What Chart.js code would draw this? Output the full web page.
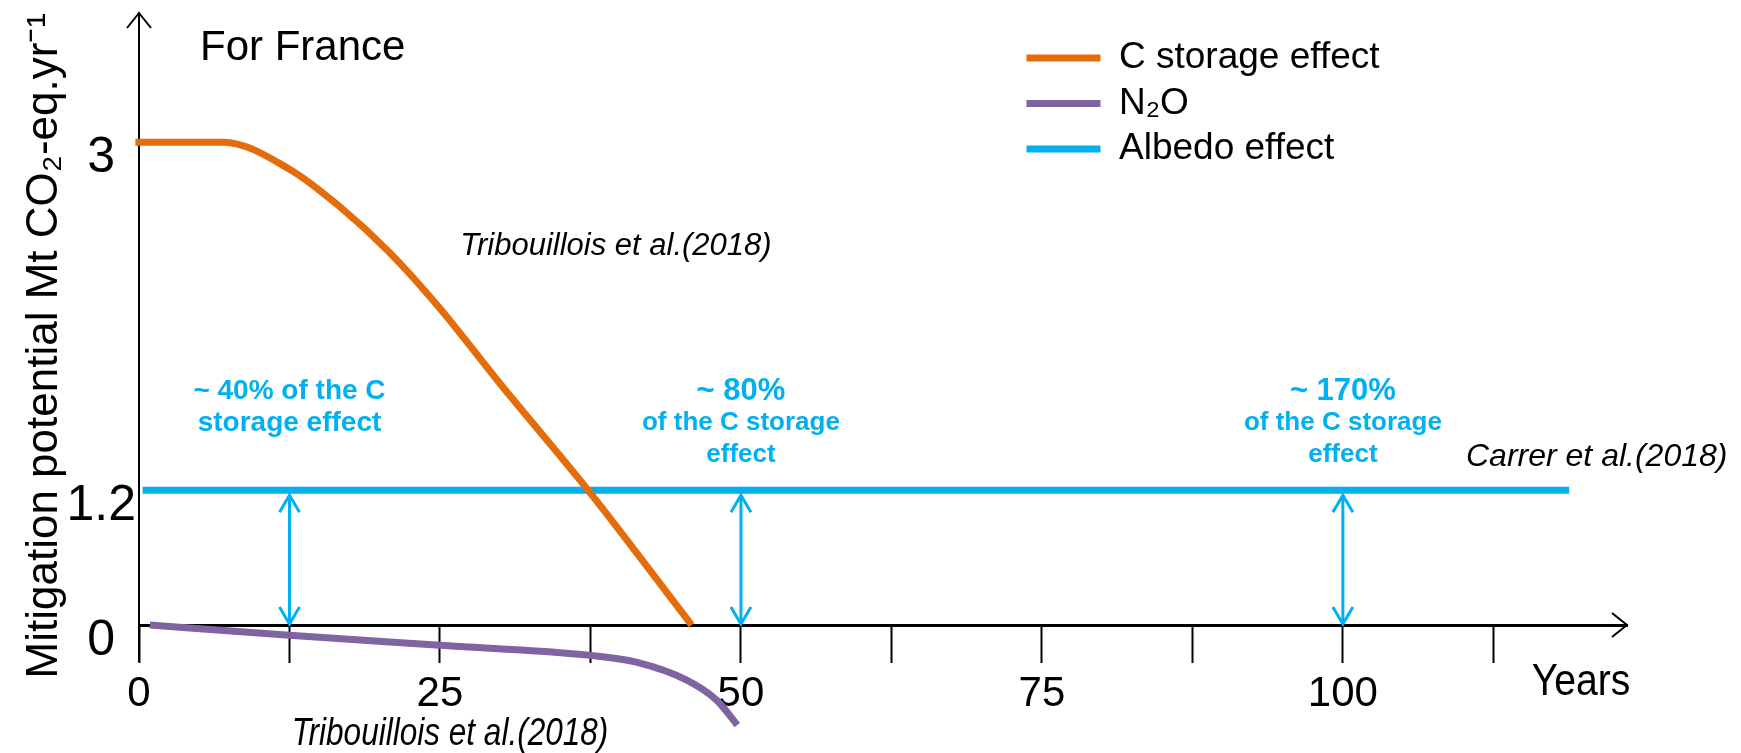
<!DOCTYPE html>
<html>
<head>
<meta charset="utf-8">
<script src="https://cdn.jsdelivr.net/npm/chart.js@4.4.1/dist/chart.umd.min.js"></script>
<style>
  html, body { margin: 0; background: #fff; }
  #wrap { width: 1741px; height: 753px; position: relative; }
</style>
</head>
<body>
<div id="wrap"><canvas id="chart"></canvas></div>
<script>
// --- series (years, Mt CO2-eq/yr) ---
const seriesNames = ['C storage effect', 'N₂O', 'Albedo effect'];
const seriesColors = ['#E46C0A', '#8064A2', '#00B0F0'];

const cStorageYears = [-0.3, 7, 12.5, 16.7, 20.8, 25, 30, 37.3, 45.9];
const cStorageValues = [3, 3, 2.86, 2.665, 2.43, 2.14, 1.75, 1.2, 0];

const n2oYears = [0.9, 12.5, 25, 37.5, 41.3, 45.5, 48, 49.7];
const n2oValues = [0, -0.09, -0.18, -0.27, -0.33, -0.49, -0.67, -0.89];

const albedoYears = [0.3, 118.8];
const albedoValues = [1.2, 1.2];

// --- axes ---
const xTicks = [0, 12.5, 25, 37.5, 50, 62.5, 75, 87.5, 100, 112.5];
const xLabelled = [0, 25, 50, 75, 100];
const yTicks = [0, 1.2, 3];

// --- albedo vs C storage comparison arrows ---
const arrowYears = [12.5, 50, 100];
const shareLabels = [
  ['~ 40% of the C', 'storage effect'],
  ['~ 80%', 'of the C storage', 'effect'],
  ['~ 170%', 'of the C storage', 'effect']
];

// the figure is a sketch: above 1.2 one unit is drawn ~1.72x taller than below
const Y_BREAK = 1.2;
const Y_STRETCH = 1.72;

const warp = v => (v <= Y_BREAK ? v : Y_BREAK + (v - Y_BREAK) * Y_STRETCH);
const unwarp = w => (w <= Y_BREAK ? w : Y_BREAK + (w - Y_BREAK) / Y_STRETCH);

class WarpScale extends Chart.LinearScale {
  getPixelForValue(value) {
    const a = warp(this.min), b = warp(this.max);
    return this.getPixelForDecimal((warp(value) - a) / (b - a));
  }
  getValueForPixel(pixel) {
    const a = warp(this.min), b = warp(this.max);
    return unwarp(a + this.getDecimalForPixel(pixel) * (b - a));
  }
}
WarpScale.id = 'warp';
WarpScale.defaults = Chart.LinearScale.defaults;
Chart.register(WarpScale);

const FONT = '"Liberation Sans", Arial, sans-serif';
Chart.defaults.font.family = FONT;
Chart.defaults.color = '#000';

const toPoints = (xs, ys) => xs.map((x, i) => ({ x, y: ys[i] }));

function lineSet(i, xs, ys) {
  return {
    label: seriesNames[i],
    data: toPoints(xs, ys),
    borderColor: seriesColors[i],
    backgroundColor: seriesColors[i],
    borderWidth: 7,
    pointRadius: 0,
    cubicInterpolationMode: 'monotone',
    borderCapStyle: 'butt',
    clip: false
  };
}

// open "V" arrow head, tip at (tx, ty), pointing along (dx, dy)
function head(ctx, tx, ty, dx, dy, len, half) {
  ctx.beginPath();
  ctx.moveTo(tx - dx * len - dy * half, ty - dy * len + dx * half);
  ctx.lineTo(tx, ty);
  ctx.lineTo(tx - dx * len + dy * half, ty - dy * len - dx * half);
  ctx.stroke();
}

// text squeezed horizontally (some captions are condensed in the original)
function squeezed(ctx, text, x, y, sx) {
  ctx.save();
  ctx.translate(x, y);
  ctx.scale(sx, 1);
  ctx.fillText(text, 0, 0);
  ctx.restore();
}

const annotate = {
  id: 'annotate',
  beforeDraw(chart) {
    // legend sits in the top right corner of the plot
    const lg = chart.legend;
    const w = lg.right - lg.left, h = lg.bottom - lg.top;
    lg.left = 1018; lg.top = 31;
    lg.right = lg.left + w; lg.bottom = lg.top + h;
  },
  afterDraw(chart) {
    const { ctx, scales: { x, y } } = chart;
    ctx.save();

    // axis arrows
    ctx.strokeStyle = '#000';
    ctx.lineWidth = 2;
    head(ctx, x.left, y.top, 0, -1, 15, 12);
    head(ctx, x.right, y.getPixelForValue(0), 1, 0, 15, 12);

    // double arrows between the albedo line and zero
    const yAlb = y.getPixelForValue(albedoValues[0]);
    const y0 = y.getPixelForValue(0);
    ctx.strokeStyle = seriesColors[2];
    ctx.fillStyle = seriesColors[2];
    ctx.lineWidth = 3;
    ctx.textAlign = 'center';
    ctx.textBaseline = 'middle';
    arrowYears.forEach((yr, i) => {
      const px = x.getPixelForValue(yr);
      ctx.beginPath();
      ctx.moveTo(px, yAlb + 5);
      ctx.lineTo(px, y0 - 1);
      ctx.stroke();
      head(ctx, px, yAlb + 5, 0, -1, 17, 10);
      head(ctx, px, y0 - 1, 0, 1, 17, 10);

      shareLabels[i].forEach((t, j) => {
        let size = 26;
        if (i === 0) size = 28;
        else if (j === 0) size = 31;
        ctx.font = 'bold ' + size + 'px ' + FONT;
        ctx.fillText(t, px, yAlb - 99 + 32 * j);
      });
    });

    // captions
    ctx.fillStyle = '#000';
    ctx.textBaseline = 'middle';
    ctx.textAlign = 'left';
    ctx.font = '42px ' + FONT;
    ctx.fillText('For France', 200, 48);

    ctx.textAlign = 'center';
    ctx.font = 'italic 31px ' + FONT;
    ctx.fillText('Tribouillois et al.(2018)', 616, 246);

    ctx.font = 'italic 38px ' + FONT;
    squeezed(ctx, 'Tribouillois et al.(2018)', 450, 734, 0.83);

    ctx.textAlign = 'left';
    ctx.font = 'italic 32px ' + FONT;
    ctx.fillText('Carrer et al.(2018)', 1466, 457);

    ctx.textAlign = 'center';
    ctx.font = '44px ' + FONT;
    squeezed(ctx, 'Years', 1581, 683, 0.89);

    ctx.restore();
  }
};

new Chart(document.getElementById('chart'), {
  type: 'line',
  data: {
    datasets: [
      lineSet(0, cStorageYears, cStorageValues),
      lineSet(1, n2oYears, n2oValues),
      lineSet(2, albedoYears, albedoValues)
    ]
  },
  options: {
    responsive: true,
    maintainAspectRatio: false,
    animation: false,
    layout: { padding: { top: 13, right: 114, bottom: 92, left: 0 } },
    plugins: {
      tooltip: { enabled: false },
      legend: {
        position: 'chartArea',
        align: 'start',
        labels: {
          boxWidth: 74,
          boxHeight: 7,
          padding: 8.5,
          font: { size: 37 },
          generateLabels: chart =>
            Chart.defaults.plugins.legend.labels.generateLabels(chart)
              .map(item => Object.assign(item, { lineWidth: 0 }))
        }
      }
    },
    scales: {
      x: {
        type: 'linear',
        min: 0,
        max: 123.6,
        position: { y: 0 },
        afterBuildTicks: s => { s.ticks = xTicks.map(v => ({ value: v })); },
        grid: { drawOnChartArea: false, drawTicks: true, tickLength: 36, tickWidth: 2, tickColor: '#000' },
        border: { color: '#000', width: 3 },
        ticks: {
          autoSkip: false,
          maxRotation: 0,
          padding: 8,
          font: { size: 42 },
          callback: v => (xLabelled.includes(v) ? String(v) : '')
        }
      },
      y: {
        type: 'warp',
        min: -0.32,
        max: 3.668,
        afterBuildTicks: s => { s.ticks = yTicks.map(v => ({ value: v })); },
        afterFit: s => { s.width = 139; s.paddingTop = 0; s.paddingBottom = 0; },
        grid: { display: false, drawTicks: false },
        border: { color: '#000', width: 2 },
        ticks: {
          crossAlign: 'center',
          padding: 3,
          labelOffset: 16,
          font: { size: 50 },
          callback: v => String(v)
        },
        title: {
          display: true,
          text: 'Mitigation potential Mt CO₂-eq.yr⁻¹',
          align: 'end',
          font: { size: 44 },
          padding: { top: 18, bottom: 0 }
        }
      }
    }
  },
  plugins: [annotate]
});
</script>
</body>
</html>
